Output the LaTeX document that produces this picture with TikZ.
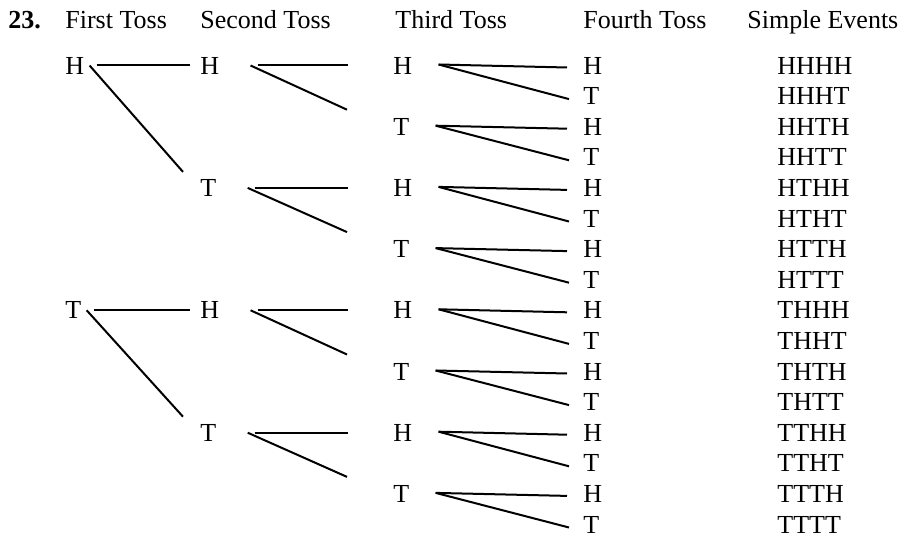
\documentclass[tikz,border=0pt]{standalone}
\usepackage{fontspec}
\setmainfont{Liberation Serif}
\usepackage{tikz}
\tikzset{
  toss/.style={anchor=base west, inner sep=0pt, font=\fontsize{13pt}{15pt}\selectfont},
  line/.style={line width=1pt, color=black}
}

\begin{document}
\begin{tikzpicture}[x=0.5pt, y=-0.5pt]
  \useasboundingbox (0,0) rectangle (901,538);

  % column heads
  \node[toss, font=\fontsize{13pt}{15pt}\selectfont\bfseries] (num) at (8,28) {23.};
  \node[toss] (first) at (65,28) {First Toss};
  \node[toss] (second) at (200,28) {Second Toss};
  \node[toss] (third) at (395,28) {Third Toss};
  \node[toss] (fourth) at (583,28) {Fourth Toss};
  \node[toss] (simple) at (747,28) {Simple Events};

  % first and second toss
  \node[toss] (H) at (65,74) {H};
  \node[toss] (T) at (65,318.8) {T};
  \node[toss] (HH) at (200,74) {H};
  \node[toss] (HT) at (200,196.4) {T};
  \node[toss] (TH) at (200,318.8) {H};
  \node[toss] (TT) at (200,441.2) {T};

  % third toss
  \node[toss] (HHH) at (393,74) {H};
  \node[toss] (HHT) at (393,135.2) {T};
  \node[toss] (HTH) at (393,196.4) {H};
  \node[toss] (HTT) at (393,257.6) {T};
  \node[toss] (THH) at (393,318.8) {H};
  \node[toss] (THT) at (393,380) {T};
  \node[toss] (TTH) at (393,441.2) {H};
  \node[toss] (TTT) at (393,502.4) {T};

  % fourth toss and simple events
  \foreach \s/\l [count=\i from 0] in {HHHH/H, HHHT/T, HHTH/H, HHTT/T,
      HTHH/H, HTHT/T, HTTH/H, HTTT/T, THHH/H, THHT/T, THTH/H, THTT/T,
      TTHH/H, TTHT/T, TTTH/H, TTTT/T} {
    \node[toss] (\s) at (583,{74+30.6*\i}) {\l};
    \node[toss] (e\s) at (777,{74+30.6*\i}) {\s};
  }

  % branches
  \foreach \p in {H,T} {
    \draw[line] ([xshift=6pt]\p.east) -- ([xshift=-5pt]\p H.west);
    \draw[line] ([xshift=2.5pt]\p.east) -- ([xshift=-8.5pt,yshift=8pt]\p T.west);
  }
  \foreach \p in {HH,HT,TH,TT} {
    \draw[line] ([xshift=19pt]\p.east) -- ([xshift=-22.5pt]\p H.west);
    \draw[line] ([xshift=15.5pt]\p.east) -- ([xshift=-23pt,yshift=8.5pt]\p T.west);
  }
  \foreach \p in {HHH,HHT,HTH,HTT,THH,THT,TTH,TTT} {
    \draw[line] ([xshift=13pt,yshift=0.5pt]\p.east) -- ([xshift=-8pt,yshift=-1pt]\p H.west);
    \draw[line] ([xshift=13pt,yshift=0.5pt]\p.east) -- ([xshift=-7pt,yshift=-1.5pt]\p T.west);
  }
\end{tikzpicture}
\end{document}
